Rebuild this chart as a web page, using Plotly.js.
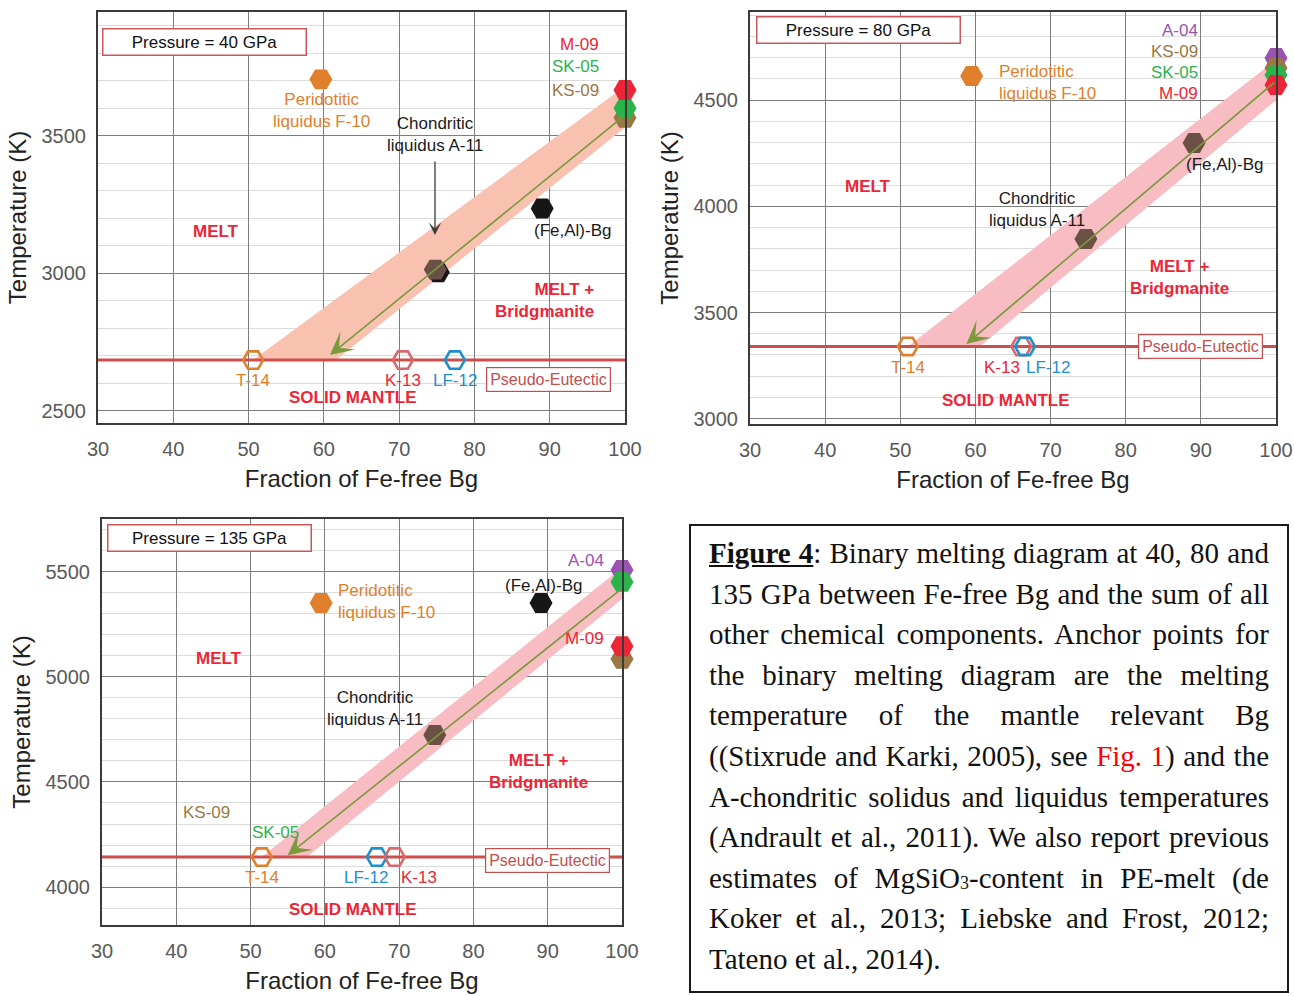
<!DOCTYPE html>
<html>
<head>
<meta charset="utf-8">
<script src="https://cdn.plot.ly/plotly-3.0.1.min.js"></script>
<style>
html,body{margin:0;padding:0;background:#fff;}
#wrap{position:relative;width:1294px;height:996px;overflow:hidden;}
#chart{position:absolute;left:0;top:0;width:1294px;height:996px;}
#caption{position:absolute;left:689px;top:524px;width:600px;height:469px;box-sizing:border-box;border:2px solid #1a1a1a;padding:7px 18px 0 18px;font-family:'Liberation Serif','Times New Roman',serif;font-size:29px;line-height:40.6px;color:#111;background:#fff;}
#caption .ln{text-align:justify;text-align-last:justify;}
#caption .ln.last{text-align-last:left;}
#caption sub{font-size:0.62em;vertical-align:-0.08em;line-height:0;}
</style>
</head>
<body>
<div id="wrap">
  <div id="chart"></div>
  <div id="caption">
    <div class="ln"><u><b>Figure 4</b></u>: Binary melting diagram at 40, 80 and</div>
    <div class="ln">135 GPa between Fe-free Bg and the sum of all</div>
    <div class="ln">other chemical components. Anchor points for</div>
    <div class="ln">the binary melting diagram are the melting</div>
    <div class="ln">temperature of the mantle relevant Bg</div>
    <div class="ln">((Stixrude and Karki, 2005), see <span style="color:#f00">Fig. 1</span>) and the</div>
    <div class="ln">A-chondritic solidus and liquidus temperatures</div>
    <div class="ln">(Andrault et al., 2011). We also report previous</div>
    <div class="ln">estimates of MgSiO<sub>3</sub>-content in PE-melt (de</div>
    <div class="ln">Koker et al., 2013; Liebske and Frost, 2012;</div>
    <div class="ln last">Tateno et al., 2014).</div>
  </div>
</div>
<script>
// ================= DATA =================
const xTicks = [30, 40, 50, 60, 70, 80, 90, 100];   // Fraction of Fe-free Bg
const xRange = [30, 100];

// ---- Pressure = 40 GPa ----
const p40FilledNames = ['Peridotitic liquidus F-10', 'A-11 shadow', 'Chondritic liquidus A-11', '(Fe,Al)-Bg', 'KS-09', 'SK-05', 'M-09'];
const p40FilledX = [59.6, 75.2, 74.8, 89.0, 100, 100, 100];
const p40FilledY = [3705, 3003, 3013, 3235, 3565, 3600, 3666];
const p40PENames = ['T-14', 'K-13', 'LF-12'];
const p40PEX = [50.6, 70.5, 77.4];
const p40PE = 2684;                       // pseudo-eutectic temperature (K)
const p40BandX = [50.6, 100, 100, 61.6];
const p40BandY = [2684, 3680, 3530, 2684];
const p40ArrowFrom = [100, 3575];
const p40ArrowTo = [60.8, 2702];
const p40YRange = [2455, 3950];

// ---- Pressure = 80 GPa ----
const p80FilledNames = ['Peridotitic liquidus F-10', 'Chondritic liquidus A-11', '(Fe,Al)-Bg', 'A-04', 'KS-09', 'SK-05', 'M-09'];
const p80FilledX = [59.5, 74.7, 89.1, 100, 100, 100, 100];
const p80FilledY = [4614, 3846, 4298, 4698, 4651, 4618, 4571];
const p80PENames = ['T-14', 'K-13', 'LF-12'];
const p80PEX = [51.0, 66.1, 66.6];
const p80PE = 3340;
const p80BandX = [51.0, 100, 100, 60.6];
const p80BandY = [3340, 4690, 4500, 3340];
const p80ArrowFrom = [100, 4590];
const p80ArrowTo = [58.8, 3352];
const p80YRange = [2975, 4915];

// ---- Pressure = 135 GPa ----
const p135FilledNames = ['Peridotitic liquidus F-10', '(Fe,Al)-Bg', 'Chondritic liquidus A-11', 'A-04', 'SK-05', 'KS-09', 'M-09'];
const p135FilledX = [59.5, 89.1, 74.8, 100, 100, 100, 100];
const p135FilledY = [5351, 5351, 4723, 5508, 5451, 5085, 5145];
const p135PENames = ['T-14', 'LF-12', 'K-13'];
const p135PEX = [51.5, 67.0, 69.4];
const p135PE = 4143;
const p135BandX = [51.5, 100, 100, 57.6];
const p135BandY = [4143, 5520, 5370, 4143];
const p135ArrowFrom = [100, 5420];
const p135ArrowTo = [55.0, 4152];
const p135YRange = [3820, 5750];

// ================= STYLE =================
const W = 1294, H = 996;
const SANS = '"Liberation Sans", Arial, sans-serif';
const C = {
  orange: '#e07f2c', red: '#ec2636', green: '#2bb34b', brown: '#9a7843', purple: '#9b52b3',
  dark: '#6b5046', black: '#161616', blue: '#1f8fd0', pink: '#d7686b', olive: '#7a9a3c',
  pe: '#cd4f4c', peText: '#c0504d', box: '#c9575a'
};
const MARK_COLOR = {
  'Peridotitic liquidus F-10': C.orange, 'Chondritic liquidus A-11': C.dark, 'A-11 shadow': C.black,
  '(Fe,Al)-Bg': C.black, 'M-09': C.red, 'SK-05': C.green, 'KS-09': C.brown, 'A-04': C.purple,
  'T-14': C.orange, 'K-13': C.pink, 'LF-12': C.blue
};

function axName(n, l) { return l + (n > 1 ? n : ''); }

function panelTraces(n, fNames, fX, fY, peNames, peX, peT, bandX, bandY, bandColor, override) {
  const xa = axName(n, 'x'), ya = axName(n, 'y');
  const colorOf = nm => (override && override[nm]) || MARK_COLOR[nm];
  return [
    { type: 'scatter', mode: 'lines', xaxis: xa, yaxis: ya, x: bandX.concat([bandX[0]]), y: bandY.concat([bandY[0]]),
      fill: 'toself', fillcolor: bandColor, line: { width: 0 }, hoverinfo: 'skip', showlegend: false },
    { type: 'scatter', mode: 'lines', xaxis: xa, yaxis: ya, x: xRange, y: [peT, peT],
      line: { color: C.pe, width: 3 }, hoverinfo: 'skip', showlegend: false },
    { type: 'scatter', mode: 'markers', xaxis: xa, yaxis: ya, x: peX, y: peNames.map(() => peT), text: peNames,
      marker: { symbol: 'hexagon2-open', size: 20, color: peNames.map(colorOf), line: { width: 2.6, color: peNames.map(colorOf) } },
      cliponaxis: false, showlegend: false },
    { type: 'scatter', mode: 'markers', xaxis: xa, yaxis: ya, x: fX, y: fY, text: fNames,
      marker: { symbol: 'hexagon2', size: 23, color: fNames.map(colorOf), line: { width: 0 } },
      cliponaxis: false, showlegend: false }
  ];
}

const data = [].concat(
  panelTraces(1, p40FilledNames, p40FilledX, p40FilledY, p40PENames, p40PEX, p40PE, p40BandX, p40BandY, '#f8c1b0'),
  panelTraces(2, p80FilledNames, p80FilledX, p80FilledY, p80PENames, p80PEX, p80PE, p80BandX, p80BandY, '#f8bcc3', { '(Fe,Al)-Bg': C.dark }),
  panelTraces(3, p135FilledNames, p135FilledX, p135FilledY, p135PENames, p135PEX, p135PE, p135BandX, p135BandY, '#f8bcc3')
);

function xAxis(px0, px1, anchor) {
  return {
    domain: [px0 / W, px1 / W], anchor: anchor, range: xRange, tickmode: 'array', tickvals: xTicks,
    showgrid: true, gridcolor: '#7d7d7d', gridwidth: 1, zeroline: false,
    showline: true, mirror: true, linecolor: '#3a3a3a', linewidth: 2, ticks: '',
    tickfont: { family: SANS, size: 20, color: '#595959' }, ticklabelstandoff: 7,
    title: { text: 'Fraction of Fe-free Bg', font: { family: SANS, size: 24, color: '#222' }, standoff: 11 },
    fixedrange: true
  };
}
function yAxis(py0, py1, anchor, range) {
  return {
    domain: [1 - py1 / H, 1 - py0 / H], anchor: anchor, range: range, tickmode: 'linear', tick0: 0, dtick: 500,
    showgrid: true, gridcolor: '#7d7d7d', gridwidth: 1, zeroline: false,
    minor: { tickmode: 'linear', tick0: 0, dtick: 100, showgrid: true, gridcolor: '#dcdcdc', gridwidth: 1, ticks: '' },
    showline: true, mirror: true, linecolor: '#3a3a3a', linewidth: 2, ticks: '',
    tickfont: { family: SANS, size: 20, color: '#595959' }, ticklabelstandoff: 6,
    title: { text: 'Temperature (K)', font: { family: SANS, size: 24, color: '#222' }, standoff: 8 },
    fixedrange: true
  };
}

function lab(n, x, y, text, color, o) {
  return Object.assign({
    xref: axName(n, 'x'), yref: axName(n, 'y'), x: x, y: y, text: text, showarrow: false,
    font: { family: SANS, size: 17, color: color }, xanchor: 'center', yanchor: 'middle', align: 'center'
  }, o || {});
}
const BOLD = { family: SANS, size: 17, color: C.red, weight: 'bold' };
function boldLab(n, x, y, text, o) { return lab(n, x, y, '<b>' + text + '</b>', C.red, Object.assign({ font: BOLD }, o || {})); }
function pressBox(n, x, y, text) {
  return lab(n, x, y, text, '#111', { font: { family: SANS, size: 17, color: '#111' }, bordercolor: C.box, borderwidth: 1.5, borderpad: 3, width: 196, height: 19, bgcolor: '#fff' });
}
function peBox(n, x, y) {
  return lab(n, x, y, 'Pseudo-Eutectic', C.peText, { font: { family: SANS, size: 16, color: C.peText }, bordercolor: C.peText, borderwidth: 1.2, borderpad: 3, bgcolor: '#fff' });
}
function bigArrow(n, from, to) {
  return { xref: axName(n, 'x'), yref: axName(n, 'y'), axref: axName(n, 'x'), ayref: axName(n, 'y'),
    x: to[0], y: to[1], ax: from[0], ay: from[1], text: '', showarrow: true,
    arrowhead: 3, arrowsize: 2.4, arrowwidth: 1.6, arrowcolor: C.olive };
}

const annotations = [
  // ---- 40 GPa ----
  pressBox(1, 44.2, 3841, 'Pressure = 40 GPa'),
  lab(1, 96.8, 3830, 'M-09', C.red, { xanchor: 'right' }),
  lab(1, 96.8, 3750, 'SK-05', C.green, { xanchor: 'right' }),
  lab(1, 96.8, 3666, 'KS-09', C.brown, { xanchor: 'right' }),
  lab(1, 59.75, 3590, 'Peridotitic<br>liquidus F-10', C.orange),
  lab(1, 74.8, 3506, 'Chondritic<br>liquidus A-11', '#1a1a1a'),
  { xref: 'x', yref: 'y', axref: 'x', ayref: 'y', x: 74.76, y: 3139, ax: 74.76, ay: 3412, text: '', showarrow: true,
    arrowhead: 3, arrowsize: 1.6, arrowwidth: 1.3, arrowcolor: '#3a3a3a' },
  lab(1, 93.0, 3157, '(Fe,Al)-Bg', '#1a1a1a'),
  boldLab(1, 45.7, 3150, 'MELT'),
  boldLab(1, 96.1, 2899, 'MELT +<br>Bridgmanite', { xanchor: 'right', align: 'right' }),
  boldLab(1, 63.9, 2546, 'SOLID MANTLE'),
  lab(1, 50.6, 2608, 'T-14', C.orange),
  lab(1, 70.5, 2608, 'K-13', C.red),
  lab(1, 77.4, 2608, 'LF-12', C.blue),
  peBox(1, 89.9, 2615),
  bigArrow(1, p40ArrowFrom, p40ArrowTo),

  // ---- 80 GPa ----
  pressBox(2, 44.4, 4830, 'Pressure = 80 GPa'),
  lab(2, 89.9, 4830, 'A-04', C.purple, { xanchor: 'right' }),
  lab(2, 89.9, 4727, 'KS-09', C.brown, { xanchor: 'right' }),
  lab(2, 89.9, 4628, 'SK-05', C.green, { xanchor: 'right' }),
  lab(2, 89.9, 4529, 'M-09', C.red, { xanchor: 'right' }),
  lab(2, 62.9, 4581, 'Peridotitic<br>liquidus F-10', C.orange, { xanchor: 'left', align: 'left' }),
  lab(2, 68.2, 3983, 'Chondritic<br>liquidus A-11', '#1a1a1a'),
  lab(2, 93.1, 4199, '(Fe,Al)-Bg', '#1a1a1a'),
  boldLab(2, 45.7, 4091, 'MELT'),
  boldLab(2, 87.1, 3667, 'MELT +<br>Bridgmanite'),
  boldLab(2, 64.1, 3088, 'SOLID MANTLE'),
  lab(2, 51.0, 3239, 'T-14', C.orange),
  lab(2, 63.6, 3239, 'K-13', C.red),
  lab(2, 69.7, 3239, 'LF-12', C.blue),
  peBox(2, 89.9, 3342),
  bigArrow(2, p80ArrowFrom, p80ArrowTo),

  // ---- 135 GPa ----
  pressBox(3, 44.5, 5662, 'Pressure = 135 GPa'),
  lab(3, 97.8, 5555, 'A-04', C.purple, { xanchor: 'right' }),
  lab(3, 89.4, 5436, '(Fe,Al)-Bg', '#1a1a1a'),
  lab(3, 61.5, 5360, 'Peridotitic<br>liquidus F-10', C.orange, { xanchor: 'left', align: 'left' }),
  lab(3, 97.8, 5184, 'M-09', C.red, { xanchor: 'right' }),
  boldLab(3, 45.75, 5085, 'MELT'),
  lab(3, 66.75, 4847, 'Chondritic<br>liquidus A-11', '#1a1a1a'),
  boldLab(3, 88.8, 4552, 'MELT +<br>Bridgmanite'),
  lab(3, 44.0, 4357, 'KS-09', C.brown),
  lab(3, 53.4, 4262, 'SK-05', C.green),
  lab(3, 51.5, 4048, 'T-14', C.orange),
  lab(3, 65.5, 4048, 'LF-12', C.blue),
  lab(3, 72.7, 4048, 'K-13', C.red),
  peBox(3, 90.0, 4129),
  boldLab(3, 63.8, 3896, 'SOLID MANTLE'),
  bigArrow(3, p135ArrowFrom, p135ArrowTo)
];

const layout = {
  width: W, height: H, margin: { l: 0, r: 0, t: 0, b: 0 }, paper_bgcolor: '#fff', plot_bgcolor: '#fff',
  showlegend: false, font: { family: SANS },
  xaxis: xAxis(98, 625, 'y'), yaxis: yAxis(12, 423, 'x', p40YRange),
  xaxis2: xAxis(750, 1276, 'y2'), yaxis2: yAxis(12, 424, 'x2', p80YRange),
  xaxis3: xAxis(102, 622, 'y3'), yaxis3: yAxis(519, 925, 'x3', p135YRange),
  annotations: annotations
};

Plotly.newPlot('chart', data, layout, { displayModeBar: false, staticPlot: true });
</script>
</body>
</html>
